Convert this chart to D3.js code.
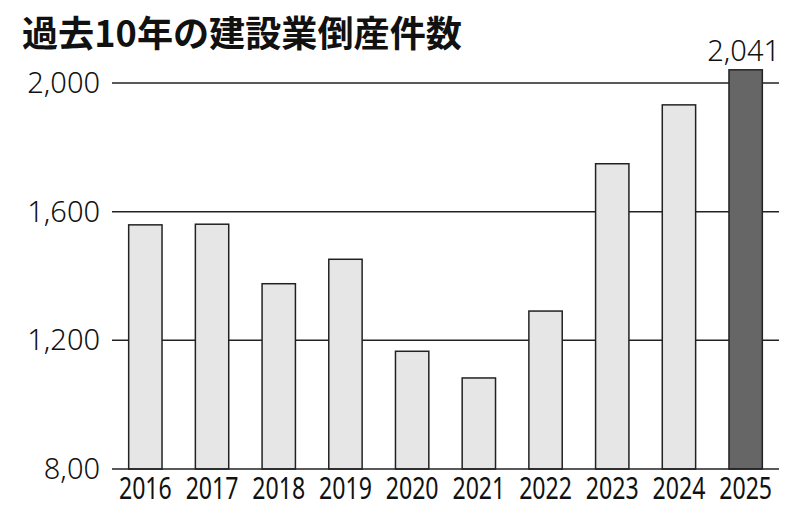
<!DOCTYPE html>
<html><head><meta charset="utf-8">
<script src="https://cdn.jsdelivr.net/npm/d3@7"></script>
<style>
html,body{margin:0;padding:0;background:#fff;}
svg{display:block;}
</style>
</head><body>
<svg id="chart" width="800" height="516"></svg>
<script>
const title = "過去10年の建設業倒産件数";
const years = ["2016","2017","2018","2019","2020","2021","2022","2023","2024","2025"];
const counts = [1559, 1561, 1376, 1452, 1166, 1083, 1291, 1749, 1932, 2041];
const tickValues = [800, 1200, 1600, 2000];
const tickLabels = ["8,00", "1,200", "1,600", "2,000"];
const highlightYear = "2025";
const highlightLabel = "2,041";

const svg = d3.select("#chart");
const x = d3.scaleBand().domain(years).range([112, 779]).paddingInner(0.5).paddingOuter(0.25);
const y = d3.scaleLinear().domain([800, 2000]).range([469, 83]);

svg.append("text")
  .attr("x", 22).attr("y", 47)
  .attr("font-family", "'Noto Sans CJK JP', sans-serif")
  .attr("font-weight", 700)
  .attr("font-size", 36)
  .attr("textLength", 440).attr("lengthAdjust", "spacingAndGlyphs")
  .attr("fill", "#111")
  .text(title);

// gridlines
svg.append("g").selectAll("line").data(tickValues.filter(v => v !== 800)).join("line")
  .attr("x1", 112).attr("x2", 779)
  .attr("y1", d => y(d)).attr("y2", d => y(d))
  .attr("stroke", "#222").attr("stroke-width", 1.5);

// y labels
svg.append("g").selectAll("text").data(tickValues).join("text")
  .attr("x", 100).attr("y", d => y(d))
  .attr("dy", "0.35em")
  .attr("text-anchor", "end")
  .attr("font-family", "'Noto Sans', sans-serif")
  .attr("font-weight", 300)
  .attr("font-size", 29)
  .attr("fill", "#111")
  .text((d, i) => tickLabels[i]);

// bars
svg.append("g").selectAll("rect").data(years).join("rect")
  .attr("x", d => x(d))
  .attr("y", (d, i) => y(counts[i]))
  .attr("width", x.bandwidth())
  .attr("height", (d, i) => y(800) - y(counts[i]))
  .attr("fill", d => d === highlightYear ? "#666666" : "#e6e6e6")
  .attr("stroke", "#222").attr("stroke-width", 1.5);

// baseline axis
const xAxis = d3.axisBottom(x).tickSize(0).tickPadding(0);
const gx = svg.append("g").attr("transform", `translate(0,${y(800)})`).call(xAxis);
gx.select(".domain").attr("d", "M112,0H779").attr("stroke", "#222").attr("stroke-width", 1.5);
gx.selectAll(".tick text")
  .attr("y", 0).attr("dy", 0)
  .attr("font-family", "'Noto Sans', sans-serif")
  .attr("font-size", 30)
  .attr("fill", "#111")
  .attr("text-anchor", "middle")
  .attr("transform", "translate(0,30) scale(0.77,1)");

// value label
const hi = years.indexOf(highlightYear);
svg.append("text")
  .attr("x", x(highlightYear) + x.bandwidth() / 2 - 2)
  .attr("y", y(counts[hi]) - 9)
  .attr("text-anchor", "middle")
  .attr("font-family", "'Noto Sans', sans-serif")
  .attr("font-weight", 300)
  .attr("font-size", 29)
  .attr("fill", "#111")
  .text(highlightLabel);
</script>
</body></html>
